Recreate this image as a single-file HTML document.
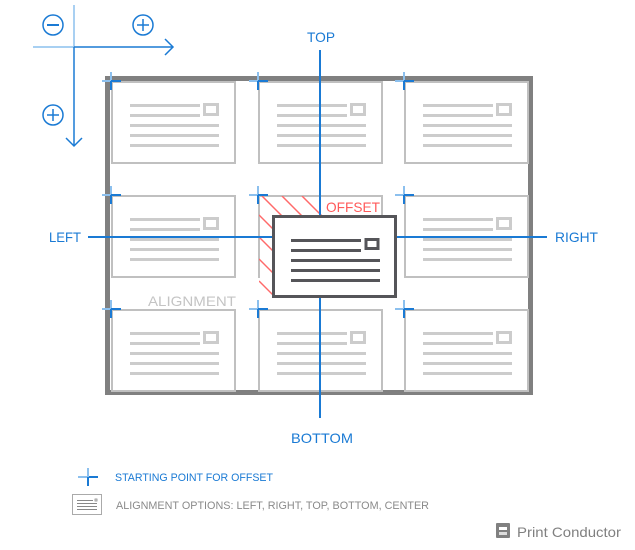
<!DOCTYPE html>
<html><head><style>body{margin:0;background:#fff}svg{display:block}</style></head><body>
<svg width="635" height="550" viewBox="0 0 635 550" xmlns="http://www.w3.org/2000/svg" font-family="Liberation Sans, sans-serif">
<defs>
<g id="cell">
<rect x="0" y="0" width="123" height="81" fill="#fff" stroke="#c0c0c0" stroke-width="2"/>
<rect x="18" y="22" width="70" height="3" fill="#ccc"/>
<rect x="18" y="32" width="70" height="3" fill="#ccc"/>
<rect x="92.5" y="22.5" width="13" height="10" fill="none" stroke="#ccc" stroke-width="3"/>
<rect x="18" y="42" width="89" height="3" fill="#ccc"/>
<rect x="18" y="52" width="89" height="3" fill="#ccc"/>
<rect x="18" y="62" width="89" height="3" fill="#ccc"/>
</g>
<g id="cross">
<line x1="-9" y1="0" x2="0" y2="0" stroke="#8cc0ee" stroke-width="2"/>
<line x1="0" y1="-9" x2="0" y2="0" stroke="#8cc0ee" stroke-width="2"/>
<line x1="0" y1="0" x2="10" y2="0" stroke="#1a7ad4" stroke-width="2"/>
<line x1="0" y1="0" x2="0" y2="9" stroke="#1a7ad4" stroke-width="2"/>
</g>
<clipPath id="hc"><path d="M259 196 H382 V216 H273 V297 H259 Z"/></clipPath>
</defs>
<line x1="33" y1="47" x2="74" y2="47" stroke="#8cc0ee" stroke-width="1.5"/>
<line x1="74" y1="5" x2="74" y2="47" stroke="#8cc0ee" stroke-width="1.5"/>
<line x1="74" y1="47" x2="173" y2="47" stroke="#1a7ad4" stroke-width="1.5"/>
<polyline points="165,39 173,47 165,55" fill="none" stroke="#1a7ad4" stroke-width="1.5"/>
<line x1="74" y1="47" x2="74" y2="146" stroke="#1a7ad4" stroke-width="1.5"/>
<polyline points="66,138 74,146 82,138" fill="none" stroke="#1a7ad4" stroke-width="1.5"/>
<g stroke="#1a7ad4" stroke-width="1.5" fill="none">
<circle cx="53" cy="25" r="10"/><line x1="47" y1="25" x2="59" y2="25" stroke-width="2"/>
<circle cx="143" cy="25" r="10"/><line x1="137" y1="25" x2="149" y2="25"/><line x1="143" y1="19" x2="143" y2="31"/>
<circle cx="53" cy="115" r="10"/><line x1="47" y1="115" x2="59" y2="115"/><line x1="53" y1="109" x2="53" y2="121"/>
</g>
<rect x="107.5" y="78.5" width="423" height="314" fill="none" stroke="#808080" stroke-width="5"/>
<use href="#cell" x="112" y="82"/><use href="#cell" x="259" y="82"/><use href="#cell" x="405" y="82"/>
<use href="#cell" x="112" y="196"/><use href="#cell" x="259" y="196"/><use href="#cell" x="405" y="196"/>
<use href="#cell" x="112" y="310"/><use href="#cell" x="259" y="310"/><use href="#cell" x="405" y="310"/>
<g clip-path="url(#hc)" stroke="#ff6a6a" stroke-width="1.5">
<rect x="260" y="197" width="121" height="99" fill="#fff" stroke="none"/>
<line x1="262" y1="196" x2="282" y2="216"/><line x1="282" y1="196" x2="302" y2="216"/><line x1="302" y1="196" x2="322" y2="216"/>
<line x1="259" y1="215" x2="275" y2="231"/><line x1="259" y1="237" x2="275" y2="253"/><line x1="259" y1="259" x2="275" y2="275"/><line x1="259" y1="281" x2="275" y2="297"/>
</g>
<line x1="320" y1="50" x2="320" y2="216" stroke="#1a7ad4" stroke-width="2"/>
<line x1="320" y1="297" x2="320" y2="418" stroke="#1a7ad4" stroke-width="2"/>
<line x1="88" y1="237" x2="273" y2="237" stroke="#1a7ad4" stroke-width="2"/>
<line x1="396" y1="237" x2="547" y2="237" stroke="#1a7ad4" stroke-width="2"/>
<rect x="273.5" y="216.5" width="122" height="80" fill="#fff" stroke="#555559" stroke-width="3"/>
<g fill="#555559">
<rect x="291" y="239" width="70" height="3"/><rect x="291" y="249" width="70" height="3"/>
<rect x="291" y="259" width="89" height="3"/><rect x="291" y="269" width="89" height="3"/><rect x="291" y="279" width="89" height="3"/>
</g>
<rect x="366" y="239.5" width="12" height="9" fill="none" stroke="#555559" stroke-width="3"/>
<use href="#cross" x="111" y="81"/><use href="#cross" x="258" y="81"/><use href="#cross" x="404" y="81"/>
<use href="#cross" x="111" y="195"/><use href="#cross" x="258" y="195"/><use href="#cross" x="404" y="195"/>
<use href="#cross" x="111" y="309"/><use href="#cross" x="258" y="309"/><use href="#cross" x="404" y="309"/>
<g font-size="14" fill="#1a7ad4">
<text x="307" y="42" textLength="28" lengthAdjust="spacingAndGlyphs">TOP</text>
<text x="291" y="443" textLength="62" lengthAdjust="spacingAndGlyphs">BOTTOM</text>
<text x="49" y="242" textLength="32" lengthAdjust="spacingAndGlyphs">LEFT</text>
<text x="555" y="242" textLength="43" lengthAdjust="spacingAndGlyphs">RIGHT</text>
</g>
<text x="326" y="212" font-size="14" fill="#ff5a5a" textLength="54" lengthAdjust="spacingAndGlyphs">OFFSET</text>
<text x="148" y="306" font-size="14" fill="#c4c4c4" textLength="88" lengthAdjust="spacingAndGlyphs">ALIGNMENT</text>
<line x1="78" y1="477" x2="88" y2="477" stroke="#8cc0ee" stroke-width="2"/>
<line x1="88" y1="477" x2="98" y2="477" stroke="#1a7ad4" stroke-width="2"/>
<line x1="88" y1="468" x2="88" y2="477" stroke="#8cc0ee" stroke-width="2"/>
<line x1="88" y1="477" x2="88" y2="486" stroke="#1a7ad4" stroke-width="2"/>
<text x="115" y="481" font-size="11" fill="#1a7ad4" textLength="158" lengthAdjust="spacingAndGlyphs">STARTING POINT FOR OFFSET</text>
<rect x="72.5" y="494.5" width="29" height="20" fill="none" stroke="#aaa"/>
<g fill="#888"><rect x="77" y="500" width="16" height="1"/><rect x="77" y="503" width="20" height="1"/><rect x="77" y="506" width="20" height="1"/><rect x="77" y="509" width="20" height="1"/></g>
<rect x="95" y="499" width="2" height="2" fill="none" stroke="#888" stroke-width="0.8"/>
<text x="116" y="509" font-size="11" fill="#8a8a8a" textLength="313" lengthAdjust="spacingAndGlyphs">ALIGNMENT OPTIONS: LEFT, RIGHT, TOP, BOTTOM, CENTER</text>
<rect x="496" y="523" width="14" height="15" rx="1" fill="#808080"/>
<rect x="499" y="527" width="8" height="3" fill="#fff"/><rect x="499" y="532" width="8" height="3" fill="#ddd"/>
<text x="517" y="537" font-size="14" fill="#808080" textLength="104" lengthAdjust="spacingAndGlyphs">Print Conductor</text>
</svg>
</body></html>
